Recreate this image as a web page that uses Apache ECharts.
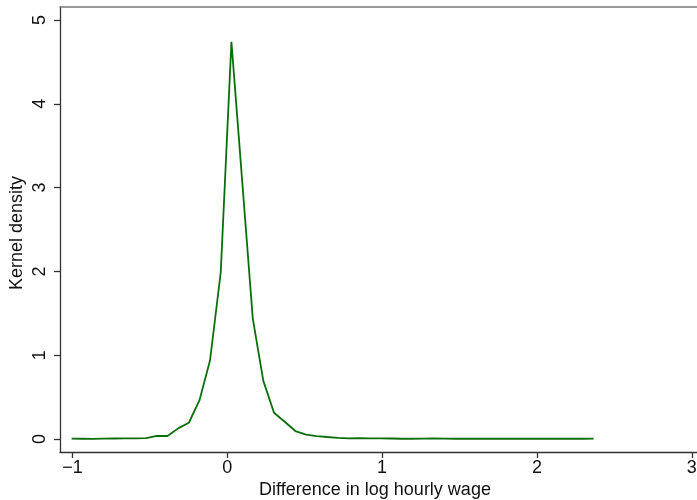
<!DOCTYPE html>
<html>
<head>
<meta charset="utf-8">
<script src="https://cdn.jsdelivr.net/npm/echarts@6/dist/echarts.min.js"></script>
<style>html,body{margin:0;padding:0;background:#fff}#c{width:697px;height:500px}</style>
</head>
<body>
<div id="c"></div>
<script>
var xValues = [-1.005,-0.936,-0.867,-0.799,-0.730,-0.661,-0.592,-0.523,-0.455,-0.386,
  -0.317,-0.248,-0.179,-0.111,-0.042,0.027,0.096,0.165,0.233,0.302,
  0.371,0.440,0.509,0.577,0.646,0.715,0.784,0.853,0.921,0.990,
  1.059,1.128,1.197,1.265,1.334,1.403,1.472,1.541,1.609,1.678,
  1.747,1.816,1.885,1.953,2.022,2.091,2.160,2.229,2.297,2.366];
var densityValues = [0.004,0.003,0.002,0.004,0.006,0.007,0.008,0.010,0.036,0.036,
  0.127,0.194,0.464,0.940,1.990,4.740,3.090,1.437,0.694,0.313,
  0.206,0.095,0.052,0.035,0.024,0.014,0.008,0.010,0.007,0.008,
  0.006,0.003,0.003,0.004,0.008,0.004,0.003,0.003,0.003,0.003,
  0.003,0.003,0.003,0.003,0.003,0.003,0.003,0.003,0.003,0.004];
var xTicks = [-1, 0, 1, 2, 3];
var yTicks = [0, 1, 2, 3, 4, 5];
var xTitle = 'Difference in log hourly wage';
var yTitle = 'Kernel density';

var font = '"Liberation Sans", Arial, Helvetica, sans-serif';
var chart = echarts.init(document.getElementById('c'), null, {renderer: 'canvas'});
var pts = xValues.map(function (x, i) { return [x, densityValues[i]]; });
chart.setOption({
  animation: false,
  backgroundColor: '#fff',
  grid: {left: 60, top: 7, width: 660, height: 445, outerBoundsMode: 'none', containLabel: false},
  xAxis: [{
    type: 'value', min: -1.080, max: 3.182, position: 'bottom',
    axisLine: {show: true, onZero: false, lineStyle: {color: '#333', width: 1.3}},
    axisTick: {show: true, customValues: xTicks, length: 6, lineStyle: {color: '#333', width: 1.3}},
    axisLabel: {customValues: xTicks, margin: 7, fontSize: 18, color: '#111', fontFamily: font,
      formatter: function (v) { return v < 0 ? '\u2212' + Math.abs(v) : String(v); }},
    splitLine: {show: false}
  }, {
    type: 'value', min: -1.080, max: 3.182, position: 'top',
    axisLine: {show: true, onZero: false, lineStyle: {color: '#7a7a7a', width: 1.5}},
    axisTick: {show: false}, axisLabel: {show: false}, splitLine: {show: false}
  }],
  yAxis: {
    type: 'value', min: -0.155, max: 5.155,
    axisLine: {show: true, onZero: false, lineStyle: {color: '#333', width: 1.3}},
    axisTick: {show: true, customValues: yTicks, length: 6, lineStyle: {color: '#333', width: 1.3}},
    axisLabel: {customValues: yTicks, rotate: 90, margin: 11, fontSize: 18, color: '#111', fontFamily: font},
    splitLine: {show: false}
  },
  graphic: [{
    type: 'text', x: 375, y: 490,
    style: {text: xTitle, font: '18px ' + font, fill: '#111', textAlign: 'center', textVerticalAlign: 'middle'}
  }, {
    type: 'text', x: 17, y: 233, rotation: Math.PI / 2,
    style: {text: yTitle, font: '18px ' + font, fill: '#111', textAlign: 'center', textVerticalAlign: 'middle'},
    originX: 0, originY: 0
  }],
  series: [{
    type: 'line', data: pts, showSymbol: false, symbol: 'none',
    lineStyle: {color: '#0a6e0a', width: 1.8}, clip: true
  }]
});
</script>
</body>
</html>
